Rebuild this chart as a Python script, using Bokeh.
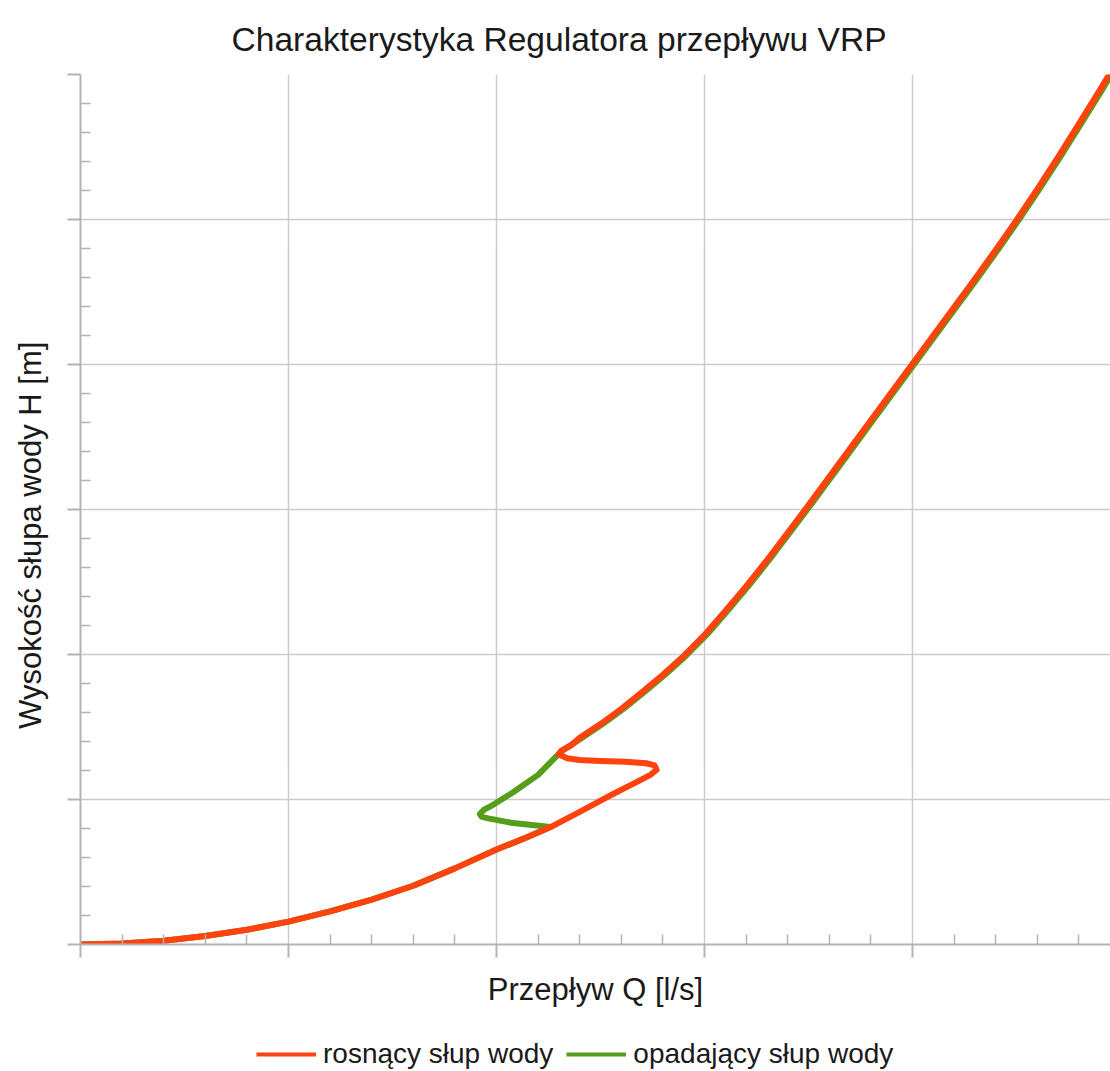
from bokeh.plotting import figure
from bokeh.layouts import column
from bokeh.models import Range1d, FixedTicker, Legend, LegendItem, ColumnDataSource, CustomJSTickFormatter
from bokeh.embed import file_html
from bokeh.resources import INLINE

# ---- data (grid units) ----
# rising water column (orange): lower branch, overshoot loop, upper branch
q_rising = [0.0, 0.2, 0.4, 0.6, 0.8, 1.0, 1.2, 1.4, 1.6, 1.8, 2.0, 2.13, 2.26,
            2.40, 2.55, 2.68, 2.74, 2.77, 2.76, 2.72, 2.62, 2.50, 2.40, 2.34, 2.30, 2.31, 2.36,
            2.40, 2.50, 2.60, 2.70, 2.80, 2.90, 3.00, 3.10, 3.20, 3.30, 3.40, 3.50,
            3.60, 3.70, 3.80, 3.90, 4.00, 4.10, 4.20, 4.30, 4.40, 4.50, 4.60, 4.70,
            4.80, 4.90, 4.95]
h_rising = [0.0, 0.007, 0.026, 0.058, 0.102, 0.158, 0.228, 0.31, 0.405, 0.525, 0.655, 0.73, 0.81,
            0.915, 1.03, 1.125, 1.17, 1.205, 1.235, 1.25, 1.26, 1.265, 1.272, 1.285, 1.31, 1.335, 1.375,
            1.425, 1.52, 1.625, 1.74, 1.86, 1.99, 2.135, 2.30, 2.47, 2.65, 2.84, 3.03,
            3.225, 3.42, 3.615, 3.81, 4.005, 4.20, 4.395, 4.59, 4.79, 4.995, 5.21, 5.43,
            5.66, 5.89, 6.01]

# falling water column (green): upper branch down, drop loop, lower branch
q_falling = [4.96, 4.91, 4.81, 4.71, 4.61, 4.51, 4.41, 4.31, 4.21, 4.11, 4.01, 3.91,
             3.81, 3.71, 3.61, 3.51, 3.41, 3.31, 3.21, 3.11, 3.01, 2.91, 2.81, 2.71,
             2.61, 2.51, 2.41, 2.31, 2.20, 2.08, 1.98, 1.94, 1.92, 1.93, 1.96, 2.07,
             2.26, 2.13, 2.0, 1.8, 1.6, 1.4, 1.2, 1.0, 0.8, 0.6, 0.4, 0.2, 0.0]
h_falling = [6.01, 5.89, 5.66, 5.43, 5.21, 4.995, 4.79, 4.59, 4.395, 4.20, 4.005, 3.81,
             3.615, 3.42, 3.225, 3.03, 2.84, 2.65, 2.47, 2.30, 2.135, 1.99, 1.86, 1.74,
             1.625, 1.52, 1.425, 1.33, 1.17, 1.05, 0.96, 0.93, 0.90, 0.88, 0.87, 0.84,
             0.81, 0.73, 0.655, 0.525, 0.405, 0.31, 0.228, 0.158, 0.102, 0.058, 0.026, 0.007, 0.0]

x_ticks = [0, 1, 2, 3, 4, 5]
y_ticks = [0, 1, 2, 3, 4, 5, 6]

title_text = "Charakterystyka Regulatora przepływu VRP"
x_label = "Przepływ Q [l/s]"
y_label = "Wysokość słupa wody H [m]"
series_names = ["rosnący słup wody", "opadający słup wody"]

ORANGE = "#ff420e"
GREEN = "#579d1c"
GRID = "#cccccc"
AXIS = "#b3b3b3"
FONT = "Liberation Sans"

p = figure(width=1110, height=1035, output_backend="svg", toolbar_location=None,
           x_range=Range1d(0, 4.952), y_range=Range1d(0, 6),
           min_border_left=80, min_border_right=0, min_border_top=74, min_border_bottom=91)

p.title.text = title_text
p.title.text_font = FONT
p.title.text_font_size = "33.6px"
p.title.text_font_style = "normal"
p.title.text_color = "#1a1a1a"
p.title.align = "left"
p.title.offset = 151
p.title.standoff = 33

p.outline_line_color = None
p.background_fill_color = "white"
p.border_fill_color = "white"

def minor(ticks):
    out = []
    for a, b in zip(ticks[:-1], ticks[1:]):
        for k in range(1, 5):
            out.append(a + (b - a) * k / 5)
    return out

p.xaxis.ticker = FixedTicker(ticks=x_ticks, minor_ticks=minor(x_ticks))
p.yaxis.ticker = FixedTicker(ticks=y_ticks, minor_ticks=minor(y_ticks))

blank = CustomJSTickFormatter(code="return ''")
for ax in (p.xaxis, p.yaxis):
    ax.formatter = blank
    ax.axis_line_color = AXIS
    ax.axis_line_width = 2
    ax.major_tick_line_color = AXIS
    ax.major_tick_line_width = 2
    ax.minor_tick_line_color = AXIS
    ax.minor_tick_line_width = 1.5
    ax.major_tick_in = 0
    ax.major_tick_out = 13
    ax.minor_tick_in = 10
    ax.minor_tick_out = 0
    ax.major_label_text_font_size = "10px"
    ax.major_label_standoff = 0
    ax.axis_label_text_font = FONT
    ax.axis_label_text_font_size = "31px"
    ax.axis_label_text_font_style = "normal"
    ax.axis_label_text_color = "#1a1a1a"

p.xaxis.axis_label = x_label
p.yaxis.axis_label = y_label + "\u00a0" * 6
p.xaxis.axis_label_standoff = 14
p.yaxis.axis_label_standoff = 20

p.xgrid.ticker = FixedTicker(ticks=x_ticks)
p.ygrid.ticker = FixedTicker(ticks=y_ticks)
p.grid.grid_line_color = GRID
p.grid.grid_line_width = 1.5

src_fall = ColumnDataSource(dict(q=q_falling, h=h_falling))
src_rise = ColumnDataSource(dict(q=q_rising, h=h_rising))
p.line("q", "h", source=src_fall, line_color=GREEN, line_width=6,
       line_cap="round", line_join="round")
p.line("q", "h", source=src_rise, line_color=ORANGE, line_width=6,
       line_cap="round", line_join="round")

# legend strip under the chart (its lines lie outside this strip's ranges)
pl = figure(width=1110, height=36, output_backend="svg", toolbar_location=None,
            x_range=Range1d(100, 101), y_range=Range1d(100, 101),
            x_axis_location=None, y_axis_location=None, min_border=0)
pl.outline_line_color = None
pl.grid.visible = False
l_up = pl.line("q", "h", source=src_rise, line_color=ORANGE, line_width=4)
l_dn = pl.line("q", "h", source=src_fall, line_color=GREEN, line_width=4)

legend = Legend(items=[LegendItem(label=series_names[0], renderers=[l_up]),
                       LegendItem(label=series_names[1], renderers=[l_dn])],
                orientation="horizontal", location=(176, 0),
                glyph_width=60, glyph_height=34, label_height=34,
                label_standoff=7, spacing=13,
                label_text_font=FONT, label_text_font_size="28px",
                label_text_color="#1a1a1a",
                border_line_color=None, background_fill_alpha=0,
                padding=0, margin=0)
pl.add_layout(legend, "center")

layout = column(p, pl)
open("out.html", "w").write(file_html(layout, INLINE))
